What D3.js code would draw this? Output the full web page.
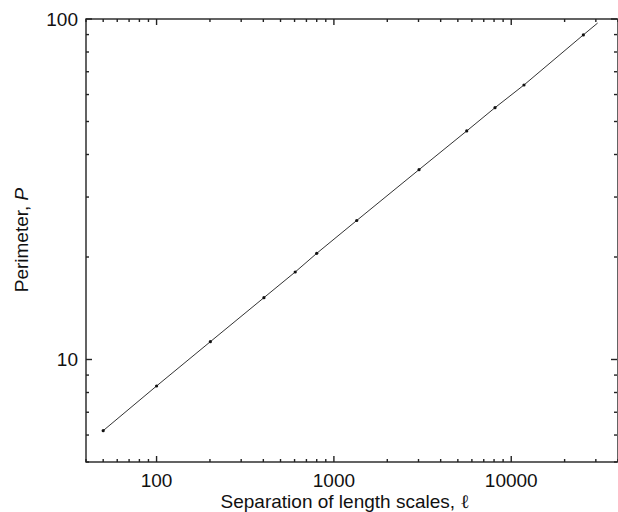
<!DOCTYPE html>
<html>
<head>
<meta charset="utf-8">
<script src="https://cdn.jsdelivr.net/npm/d3@7"></script>
<style>
body { margin: 0; background: #fff; }
svg text { font-family: "Liberation Sans", Arial, sans-serif; fill: #111; }
</style>
</head>
<body>
<svg id="chart" width="618" height="512"></svg>
<script>
// separation of length scales (l) and perimeter (P); last pair is where the curve ends, no marker
var separation = [50, 100, 201, 403, 605, 800, 1345, 3020, 5610, 8100, 11800, 25500, 30700]
var perimeter = [6.18, 8.36, 11.28, 15.19, 18.07, 20.5, 25.6, 36.1, 46.9, 54.9, 64.0, 89.8, 97.3]
var xTickLabels = [100, 1000, 10000]
var yTickLabels = [10, 100]

var svg = d3.select('#chart')
var plotLeft = 86, plotRight = 618, plotTop = 19, plotBottom = 462

var xScale = d3.scaleLog().domain([40, 40000]).range([plotLeft, plotRight])
var yScale = d3.scaleLog().domain([5, 100]).range([plotBottom, plotTop])

function minorTicks(lo, hi) {
    var out = []
    for (var p = Math.floor(Math.log10(lo)); p <= Math.ceil(Math.log10(hi)); p++) {
        for (var m = 1; m < 10; m++) {
            var v = m * Math.pow(10, p)
            if (v >= lo && v <= hi) out.push(v)
        }
    }
    return out
}
var xTicks = minorTicks(40, 40000)
var yTicks = minorTicks(5, 100)
function isMajor(v) { return Math.abs(Math.log10(v) - Math.round(Math.log10(v))) < 1e-9 }
function tickLen(v) { return isMajor(v) ? 6 : 3 }

var frame = svg.append('g').attr('id', 'frame')
    .attr('stroke', '#222')
    .attr('stroke-width', 1.4)

frame.append('rect')
    .attr('x', plotLeft).attr('y', plotTop)
    .attr('width', plotRight - plotLeft).attr('height', plotBottom - plotTop)
    .attr('fill', 'none')

// x ticks, bottom and top, pointing inward
frame.selectAll('line.xb').data(xTicks).enter().append('line')
    .attr('class', 'xb')
    .attr('x1', xScale).attr('x2', xScale)
    .attr('y1', plotBottom).attr('y2', function (d) { return plotBottom - tickLen(d) })
frame.selectAll('line.xt').data(xTicks).enter().append('line')
    .attr('class', 'xt')
    .attr('x1', xScale).attr('x2', xScale)
    .attr('y1', plotTop).attr('y2', function (d) { return plotTop + tickLen(d) })

// y ticks, left and right
frame.selectAll('line.yl').data(yTicks).enter().append('line')
    .attr('class', 'yl')
    .attr('y1', yScale).attr('y2', yScale)
    .attr('x1', plotLeft).attr('x2', function (d) { return plotLeft + tickLen(d) })
frame.selectAll('line.yr').data(yTicks).enter().append('line')
    .attr('class', 'yr')
    .attr('y1', yScale).attr('y2', yScale)
    .attr('x1', plotRight - 1).attr('x2', function (d) { return plotRight - 1 - tickLen(d) })

svg.append('g').attr('id', 'x-labels')
    .selectAll('text').data(xTickLabels).enter().append('text')
    .attr('x', xScale)
    .attr('y', plotBottom + 25)
    .attr('text-anchor', 'middle')
    .attr('font-size', 19)
    .text(function (d) { return d })

svg.append('g').attr('id', 'y-labels')
    .selectAll('text').data(yTickLabels).enter().append('text')
    .attr('x', plotLeft - 8)
    .attr('y', yScale)
    .attr('dy', '0.35em')
    .attr('text-anchor', 'end')
    .attr('font-size', 19)
    .text(function (d) { return d })

var xTitle = svg.append('text')
    .attr('x', 345)
    .attr('y', 508)
    .attr('text-anchor', 'middle')
    .attr('font-size', 19)
xTitle.append('tspan').text('Separation of length scales, ')
xTitle.append('tspan').attr('font-family', 'DejaVu Serif').text('\u2113')

var yTitle = svg.append('text')
    .attr('transform', 'translate(28, 240) rotate(-90)')
    .attr('text-anchor', 'middle')
    .attr('font-size', 19)
yTitle.append('tspan').text('Perimeter, ')
yTitle.append('tspan').attr('font-style', 'italic').text('P')

var pts = separation.map(function (d, i) { return [d, perimeter[i]] })

svg.append('path')
    .datum(pts)
    .attr('fill', 'none')
    .attr('stroke', '#333')
    .attr('stroke-width', 1)
    .attr('d', d3.line()
        .x(function (d) { return xScale(d[0]) })
        .y(function (d) { return yScale(d[1]) }))

svg.append('g').attr('id', 'points')
    .selectAll('circle').data(pts.slice(0, -1)).enter().append('circle')
    .attr('cx', function (d) { return xScale(d[0]) })
    .attr('cy', function (d) { return yScale(d[1]) })
    .attr('r', 1.6)
    .attr('fill', '#111')
</script>
</body>
</html>
